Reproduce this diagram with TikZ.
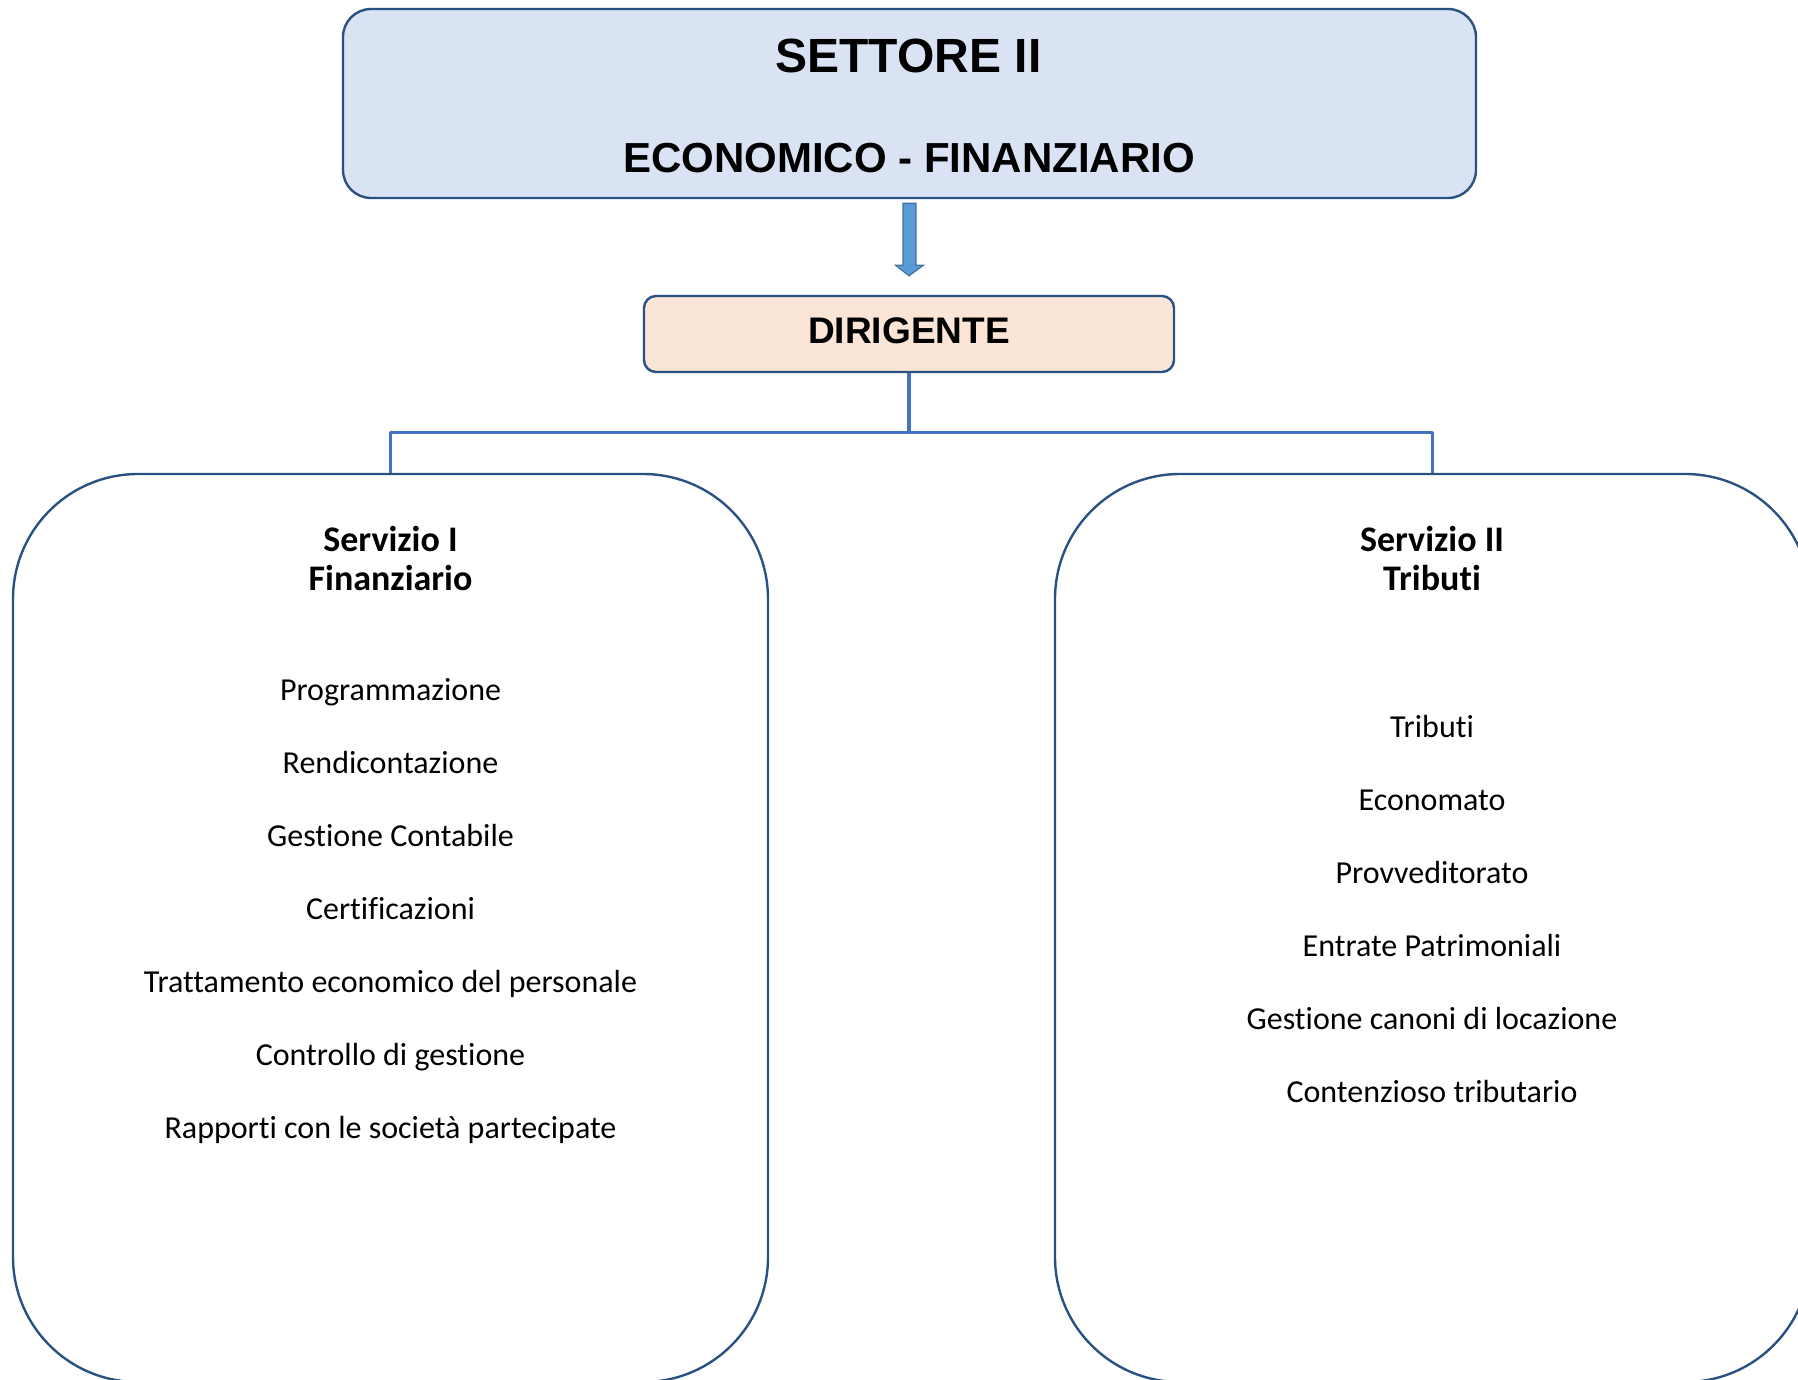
\documentclass[tikz,border=0pt]{standalone}
\usepackage{fontspec}
\newfontfamily\headfont{Liberation Sans}
\newfontfamily\listfont[Ligatures=NoCommon]{Carlito}
\usetikzlibrary{calc}

\definecolor{boxline}{RGB}{41,82,130}
\definecolor{linkblue}{RGB}{68,114,196}
\definecolor{arrowfill}{RGB}{91,155,213}
\definecolor{arrowline}{RGB}{65,113,156}
\definecolor{titlefill}{RGB}{218,227,243}
\definecolor{dirfill}{RGB}{251,229,214}

\begin{document}
\begin{tikzpicture}[
  x=1pt, y=-1pt,
  line join=round,
  panel/.style={draw=boxline, line width=2.4pt, inner sep=0pt},
  link/.style={draw=linkblue, line width=3.4pt},
  item/.style={anchor=base, font=\listfont\fontsize{32}{32}\selectfont},
  head/.style={anchor=base, font=\listfont\bfseries\fontsize{36}{36}\selectfont}
]
\useasboundingbox (0,0) rectangle (1798,1379);

% boxes: fill before text
\node [panel, fill=titlefill, rounded corners=28pt,
  minimum width=1133pt, minimum height=189pt] (top) at (909.5,103.5) {};
\node [panel, fill=dirfill, rounded corners=12pt,
  minimum width=530pt, minimum height=76pt] (dir) at (909,334) {};
\node [panel, rounded corners=125pt,
  minimum width=755pt, minimum height=908pt] (fin) at (390.5,928) {};
\node [panel, rounded corners=125pt,
  minimum width=755pt, minimum height=908pt] (trib) at (1432.5,928) {};

\begin{scope}[
  every node/.append style={
    anchor=base,
    font=\headfont\bfseries
}]
  \node [font=\headfont\bfseries\fontsize{48}{48}\selectfont] (settore) at (908.5,72) {SETTORE II};
  \node [font=\headfont\bfseries\fontsize{42}{42}\selectfont] (econ) at (909,172) {ECONOMICO - FINANZIARIO};
  \node [font=\headfont\bfseries\fontsize{37}{37}\selectfont] (dirtext) at (909,343) {DIRIGENTE};
\end{scope}

% block arrow
\filldraw [fill=arrowfill, draw=arrowline, line width=1.2pt, line join=miter]
  ($(top.south)+(-6.5,4)$) -- ($(top.south)+(6.5,4)$)
  -- ($(top.south)+(6.5,66)$) -- ($(top.south)+(14,66)$)
  -- ($(dir.north)+(0,-19)$)
  -- ($(top.south)+(-14,66)$) -- ($(top.south)+(-6.5,66)$) -- cycle;

% connectors
\coordinate (hub) at ($(dir.south)+(0,59)$);
\draw [link] (dir.south) -- (hub);
\draw [link] (fin.north) |- (hub) -| (trib.north);

% services
\node [head] (fin-title) at (390.5,551) {Servizio I};
\node [head] (fin-sub) at (390.5,590) {Finanziario};
\node [head] (trib-title) at (1432,551) {Servizio II};
\node [head] (trib-sub) at (1432,590) {Tributi};

\foreach \txt [count=\i] in {Programmazione, Rendicontazione,
  Gestione Contabile, Certificazioni, Trattamento economico del personale,
  Controllo di gestione, Rapporti con le società partecipate}
  \node [item] (fin-\i) at (390.5,{627+73*\i}) {\txt};

\foreach \txt [count=\i] in {Tributi, Economato, Provveditorato,
  Entrate Patrimoniali, Gestione canoni di locazione, Contenzioso tributario}
  \node [item] (trib-\i) at (1432,{664+73*\i}) {\txt};

\end{tikzpicture}
\end{document}
